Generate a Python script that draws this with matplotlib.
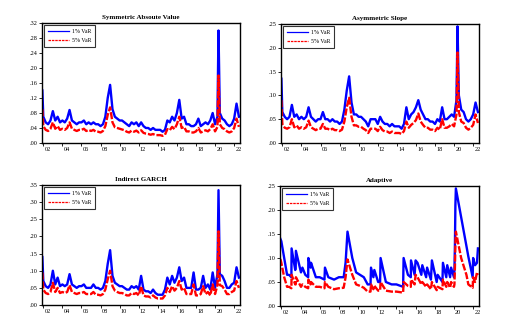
import numpy as np
import matplotlib
matplotlib.use("Agg")
import matplotlib.pyplot as plt
from matplotlib.lines import Line2D
from matplotlib.ticker import FixedLocator, FuncFormatter

plt.rcParams['font.family'] = ['Liberation Serif', 'DejaVu Serif']

# quarterly sample dates (plus first point and the March 2020 spike)
DATES = [2001.9] + list(np.arange(2002.0, 2020.26, 0.25)) + [2020.36] + list(np.arange(2020.5, 2022.51, 0.25))

sym_var1 = [0.14,
    0.07, 0.055, 0.05, 0.06,
    0.085, 0.06, 0.07, 0.055,
    0.06, 0.055, 0.065, 0.088,
    0.06, 0.055, 0.05, 0.055,
    0.055, 0.06, 0.05, 0.055,
    0.05, 0.055, 0.05, 0.05,
    0.045, 0.05, 0.07, 0.12,
    0.155, 0.09, 0.07, 0.065,
    0.06, 0.06, 0.055, 0.05,
    0.045, 0.055, 0.05, 0.055,
    0.045, 0.055, 0.045, 0.04,
    0.04, 0.035, 0.04, 0.035,
    0.035, 0.035, 0.03, 0.035,
    0.06, 0.055, 0.07, 0.06,
    0.08, 0.115, 0.065, 0.07,
    0.05, 0.05, 0.045, 0.045,
    0.05, 0.065, 0.045, 0.05,
    0.055, 0.05, 0.06, 0.08,
    0.05, 0.07, 0.30, 0.08, 0.065,
    0.06, 0.05, 0.045, 0.05,
    0.065, 0.105, 0.07]
sym_var5 = [0.09,
    0.045, 0.035, 0.032, 0.038,
    0.055, 0.038, 0.045, 0.035,
    0.038, 0.035, 0.04, 0.055,
    0.038, 0.035, 0.032, 0.035,
    0.035, 0.038, 0.032, 0.035,
    0.032, 0.035, 0.03, 0.03,
    0.028, 0.032, 0.045, 0.075,
    0.095, 0.055, 0.042, 0.04,
    0.038, 0.036, 0.034, 0.03,
    0.028, 0.033, 0.03, 0.033,
    0.028, 0.034, 0.027, 0.025,
    0.024, 0.022, 0.024, 0.021,
    0.021, 0.021, 0.019, 0.022,
    0.037, 0.034, 0.043, 0.037,
    0.05, 0.07, 0.04, 0.043,
    0.031, 0.031, 0.028, 0.028,
    0.031, 0.04, 0.028, 0.031,
    0.034, 0.031, 0.037, 0.05,
    0.031, 0.043, 0.18, 0.05, 0.04,
    0.037, 0.031, 0.028, 0.031,
    0.04, 0.065, 0.043]

asym_var1 = [0.135,
    0.065, 0.055, 0.05, 0.055,
    0.08, 0.055, 0.06, 0.05,
    0.055, 0.05, 0.055, 0.075,
    0.055, 0.05, 0.045, 0.05,
    0.05, 0.065, 0.05, 0.05,
    0.045, 0.05, 0.045, 0.045,
    0.04, 0.045, 0.07, 0.11,
    0.14, 0.085, 0.06, 0.06,
    0.055, 0.055, 0.05, 0.045,
    0.035, 0.05, 0.05, 0.05,
    0.04, 0.055, 0.045, 0.04,
    0.04, 0.035, 0.04, 0.035,
    0.035, 0.035, 0.03, 0.04,
    0.075, 0.05, 0.06, 0.065,
    0.075, 0.09, 0.07, 0.06,
    0.05, 0.05, 0.045, 0.045,
    0.04, 0.05, 0.045, 0.075,
    0.05, 0.05, 0.055, 0.06,
    0.055, 0.09, 0.245, 0.10, 0.07,
    0.065, 0.05, 0.045, 0.05,
    0.06, 0.085, 0.065]
asym_var5 = [0.09,
    0.04, 0.032, 0.03, 0.033,
    0.05, 0.033, 0.037, 0.03,
    0.033, 0.03, 0.033, 0.047,
    0.033, 0.03, 0.027, 0.03,
    0.03, 0.04, 0.03, 0.03,
    0.027, 0.03, 0.027, 0.027,
    0.025, 0.028, 0.045, 0.075,
    0.095, 0.055, 0.037, 0.037,
    0.034, 0.034, 0.03, 0.027,
    0.021, 0.03, 0.03, 0.03,
    0.025, 0.034, 0.027, 0.024,
    0.024, 0.021, 0.024, 0.021,
    0.021, 0.021, 0.019, 0.025,
    0.045, 0.032, 0.038, 0.042,
    0.048, 0.062, 0.045, 0.038,
    0.032, 0.032, 0.028, 0.028,
    0.025, 0.032, 0.028, 0.05,
    0.032, 0.032, 0.035, 0.04,
    0.035, 0.06, 0.19, 0.065, 0.045,
    0.042, 0.032, 0.028, 0.032,
    0.038, 0.06, 0.042]

garch_var1 = [0.14,
    0.07, 0.055, 0.05, 0.06,
    0.10, 0.06, 0.08, 0.055,
    0.06, 0.055, 0.06, 0.09,
    0.06, 0.055, 0.05, 0.055,
    0.055, 0.06, 0.05, 0.05,
    0.05, 0.06, 0.05, 0.05,
    0.045, 0.05, 0.07, 0.12,
    0.16, 0.085, 0.065, 0.06,
    0.055, 0.055, 0.05, 0.045,
    0.045, 0.055, 0.05, 0.055,
    0.045, 0.085, 0.045, 0.04,
    0.04, 0.035, 0.045, 0.035,
    0.03, 0.03, 0.03, 0.045,
    0.08, 0.06, 0.085, 0.065,
    0.08, 0.11, 0.07, 0.08,
    0.05, 0.05, 0.05, 0.095,
    0.045, 0.045, 0.05, 0.085,
    0.05, 0.06, 0.045, 0.095,
    0.05, 0.09, 0.335, 0.09, 0.085,
    0.07, 0.05, 0.05, 0.06,
    0.065, 0.11, 0.08]
garch_var5 = [0.095,
    0.045, 0.035, 0.032, 0.038,
    0.065, 0.038, 0.05, 0.035,
    0.038, 0.035, 0.038, 0.058,
    0.038, 0.035, 0.032, 0.035,
    0.035, 0.038, 0.032, 0.032,
    0.032, 0.038, 0.03, 0.03,
    0.028, 0.032, 0.045, 0.075,
    0.10, 0.055, 0.042, 0.038,
    0.035, 0.035, 0.032, 0.028,
    0.028, 0.035, 0.032, 0.035,
    0.028, 0.055, 0.028, 0.025,
    0.025, 0.022, 0.028, 0.022,
    0.019, 0.019, 0.019, 0.028,
    0.05, 0.038, 0.055, 0.042,
    0.05, 0.07, 0.045, 0.05,
    0.032, 0.032, 0.032, 0.06,
    0.028, 0.028, 0.032, 0.055,
    0.032, 0.038, 0.028, 0.06,
    0.032, 0.058, 0.215, 0.058, 0.055,
    0.045, 0.032, 0.032, 0.038,
    0.042, 0.07, 0.05]

# adaptive model has saw-tooth jumps, so it gets its own dates
ADA_DATES = [2001.9, 2002.0, 2002.3, 2002.6, 2002.8, 2003.05, 2003.07, 2003.45, 2003.5, 2003.52,
    2004.05, 2004.2, 2004.5, 2004.8, 2004.82, 2005.05, 2005.1, 2005.6, 2006.0, 2006.5,
    2006.55, 2006.9, 2007.5, 2008.0, 2008.5, 2008.7, 2008.9, 2009.4, 2009.8, 2010.2,
    2010.6, 2011.0, 2011.3, 2011.35, 2011.6, 2011.7, 2012.1, 2012.3, 2012.35, 2012.9,
    2013.5, 2014.0, 2014.7, 2014.75, 2015.2, 2015.5, 2015.52, 2015.9, 2016.0, 2016.2,
    2016.6, 2016.7, 2017.1, 2017.2, 2017.6, 2017.7, 2018.2, 2018.3, 2018.8, 2018.85,
    2019.2, 2019.3, 2019.6, 2019.7, 2020.0, 2020.05, 2020.1, 2020.15, 2020.2, 2020.75,
    2021.3, 2021.5, 2021.95, 2022.0, 2022.2, 2022.4, 2022.5]
ada_var1 = [0.14, 0.135, 0.10, 0.065, 0.065, 0.06, 0.12, 0.075, 0.08, 0.115,
    0.07, 0.08, 0.065, 0.06, 0.10, 0.08, 0.09, 0.06, 0.06, 0.055,
    0.08, 0.06, 0.055, 0.06, 0.06, 0.09, 0.155, 0.10, 0.07, 0.065,
    0.06, 0.045, 0.045, 0.08, 0.06, 0.075, 0.05, 0.05, 0.10, 0.05,
    0.045, 0.045, 0.04, 0.10, 0.065, 0.06, 0.095, 0.065, 0.095, 0.09,
    0.065, 0.085, 0.06, 0.08, 0.055, 0.095, 0.05, 0.065, 0.05, 0.09,
    0.06, 0.085, 0.06, 0.08, 0.06, 0.075, 0.125, 0.21, 0.245, 0.185,
    0.125, 0.103, 0.06, 0.10, 0.085, 0.09, 0.12]
ada_var5 = [0.098, 0.09, 0.06, 0.04, 0.04, 0.037, 0.065, 0.045, 0.045, 0.06,
    0.04, 0.045, 0.04, 0.037, 0.055, 0.045, 0.05, 0.04, 0.04, 0.037,
    0.05, 0.04, 0.035, 0.037, 0.038, 0.06, 0.097, 0.065, 0.045, 0.042,
    0.038, 0.03, 0.03, 0.045, 0.035, 0.042, 0.032, 0.032, 0.05, 0.032,
    0.03, 0.03, 0.028, 0.05, 0.042, 0.04, 0.055, 0.045, 0.065, 0.06,
    0.045, 0.05, 0.04, 0.045, 0.035, 0.05, 0.033, 0.04, 0.035, 0.055,
    0.04, 0.05, 0.038, 0.05, 0.04, 0.045, 0.08, 0.13, 0.155, 0.10,
    0.065, 0.045, 0.038, 0.06, 0.05, 0.07, 0.065]

panels = [
    ("Symmetric Absoute Value", DATES, sym_var1, sym_var5, [0.08167, 0.568, 0.385, 0.3625], 0.32, 0.04),
    ("Asymmetric Slope", DATES, asym_var1, asym_var5, [0.5467, 0.568, 0.385, 0.3595], 0.25, 0.05),
    ("Indirect GARCH", DATES, garch_var1, garch_var5, [0.08167, 0.0785, 0.385, 0.3625], 0.35, 0.05),
    ("Adaptive", ADA_DATES, ada_var1, ada_var5, [0.5447, 0.0755, 0.387, 0.3625], 0.25, 0.05),
]
YEARS = [2002, 2004, 2006, 2008, 2010, 2012, 2014, 2016, 2018, 2020, 2022]

fig = plt.figure(figsize=(5.14, 3.31), dpi=100)

for title, x, v1, v5, pos, ymax, ystep in panels:
    ax = fig.add_axes(pos)
    ax.plot(x, v1, color="#0000ff", lw=1.7)
    ax.plot(x, v5, color="#ff0000", lw=1.7, dashes=(3, 0.8))
    ax.set_xlim(2001.86, 2022.6)
    ax.set_ylim(0, ymax)
    ax.set_title(title, fontsize=5, fontweight="bold", pad=3)

    yt = np.arange(0, ymax + 1e-9, ystep)
    ax.yaxis.set_major_locator(FixedLocator(yt))
    ax.yaxis.set_major_formatter(FuncFormatter(lambda v, p: ("%.2f" % v)[1:]))
    ax.tick_params(axis="y", direction="out", length=2, width=0.6, labelsize=4.5, pad=1)

    # tick marks at even years, labels shifted a little to the right
    ax.xaxis.set_minor_locator(FixedLocator(YEARS))
    ax.xaxis.set_major_locator(FixedLocator([yr + 0.45 for yr in YEARS]))
    ax.set_xticklabels(["%02d" % (yr % 100) for yr in YEARS])
    ax.tick_params(axis="x", which="major", length=0, labelsize=4.5, pad=3)
    ax.tick_params(axis="x", which="minor", direction="out", length=2, width=0.6)
    for sp in ax.spines.values():
        sp.set_linewidth(1.0)

    handles = [Line2D([], [], color="#0000ff", lw=0.9),
               Line2D([], [], color="#ff0000", lw=0.9, dashes=(2, 0.7))]
    leg = ax.legend(handles, ["1% VaR", "5% VaR"], loc="upper left", fontsize=4.2,
                    frameon=True, fancybox=False, edgecolor="black", handlelength=3.6,
                    borderpad=0.6, labelspacing=0.8, handletextpad=0.6, borderaxespad=0.35)
    leg.get_frame().set_linewidth(0.8)

fig.savefig("out.png", dpi=100)
